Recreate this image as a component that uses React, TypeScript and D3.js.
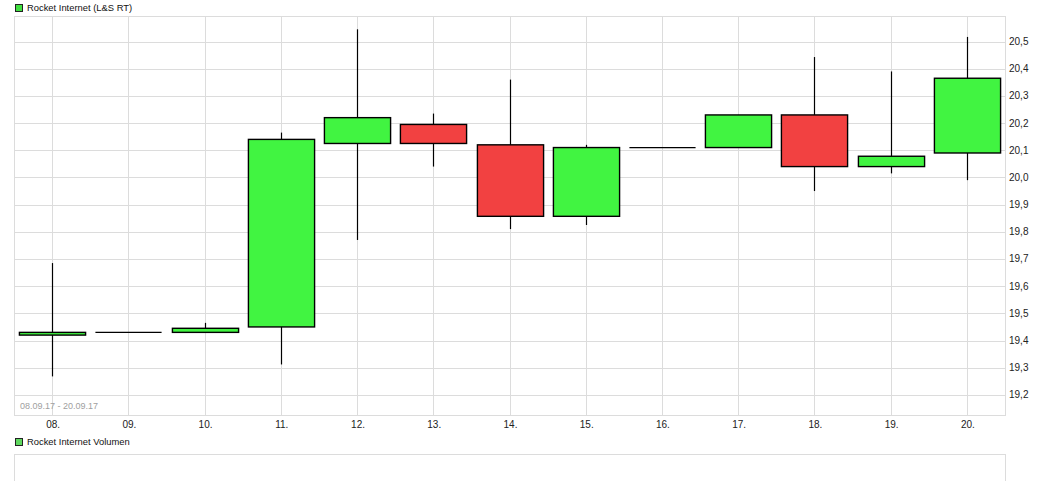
import React from "react";
import * as d3 from "d3";

const dates = ["08.", "09.", "10.", "11.", "12.", "13.", "14.", "15.", "16.", "17.", "18.", "19.", "20."];
const openValues = [19.42, 19.43, 19.43, 19.45, 20.125, 20.195, 20.12, 19.857, 20.11, 20.11, 20.23, 20.04, 20.09];
const highValues = [19.685, 19.43, 19.465, 20.165, 20.545, 20.235, 20.36, 20.12, 20.11, 20.23, 20.443, 20.39, 20.517];
const lowValues = [19.268, 19.43, 19.43, 19.312, 19.77, 20.04, 19.81, 19.825, 20.11, 20.11, 19.95, 20.015, 19.99];
const closeValues = [19.43, 19.43, 19.445, 20.14, 20.22, 20.125, 19.857, 20.11, 20.11, 20.23, 20.04, 20.078, 20.365];
const yTicks = [19.2, 19.3, 19.4, 19.5, 19.6, 19.7, 19.8, 19.9, 20.0, 20.1, 20.2, 20.3, 20.4, 20.5];
const titleText = "Rocket Internet (L&S RT)";
const volumeTitle = "Rocket Internet Volumen";
const rangeText = "08.09.17 - 20.09.17";

const W = 1040;
const H = 481;
const plot = { left: 14, right: 1005, top: 16, bottom: 415 };
const FONT = "'Liberation Sans', Arial, sans-serif";

export default function App() {
  const x = d3.scalePoint<string>().domain(dates).range([plot.left, plot.right]).padding(0.5);
  const y = d3.scaleLinear().domain([19.126, 20.594]).range([plot.bottom, plot.top]);
  const step = x.step();
  const bw = step * 0.868;
  const fmt = (v: number) => v.toFixed(1).replace(".", ",");
  const crisp = (v: number) => Math.round(v) + 0.5;

  return (
    <svg width={W} height={H} style={{ position: "absolute", left: 0, top: 0, display: "block" }}>
      <rect x={0} y={0} width={W} height={H} fill="#fff" />
      {/* legend */}
      <rect x={15.5} y={4.5} width={7} height={7} fill="#40e040" stroke="#222" strokeWidth={1} />
      <text x={27} y={11} fontSize={9.4} fontFamily={FONT} fill="#111">{titleText}</text>

      {/* grid */}
      {yTicks.map((t) => (
        <line key={"h" + t} x1={plot.left} x2={plot.right} y1={crisp(y(t))} y2={crisp(y(t))} stroke="#dcdcdc" strokeWidth={1} />
      ))}
      {dates.map((d) => (
        <line key={"v" + d} x1={crisp(x(d)!)} x2={crisp(x(d)!)} y1={plot.top} y2={plot.bottom} stroke="#dcdcdc" strokeWidth={1} />
      ))}
      <rect x={plot.left + 0.5} y={plot.top + 0.5} width={plot.right - plot.left} height={plot.bottom - plot.top} fill="none" stroke="#dcdcdc" strokeWidth={1} />

      {/* y labels */}
      {yTicks.map((t) => (
        <text key={"yl" + t} x={1009} y={y(t) + 3.5} fontSize={10} fontFamily={FONT} fill="#222">{fmt(t)}</text>
      ))}
      {/* x labels */}
      {dates.map((d) => (
        <text key={"xl" + d} x={x(d)! + 1} y={428} fontSize={10} fontFamily={FONT} fill="#222" textAnchor="middle">{d}</text>
      ))}
      <text x={20} y={409} fontSize={9} fontFamily={FONT} fill="#a0a0a0">{rangeText}</text>

      {/* candles */}
      {dates.map((d, i) => {
        const cx = crisp(x(d)!);
        const o = openValues[i];
        const c = closeValues[i];
        const up = c >= o;
        const top = y(Math.max(o, c));
        const bot = y(Math.min(o, c));
        const flat = Math.abs(bot - top) < 1;
        return (
          <g key={"c" + d}>
            <line x1={cx} x2={cx} y1={y(highValues[i])} y2={y(lowValues[i])} stroke="#000" strokeWidth={1.2} />
            {flat ? (
              <line x1={cx - bw / 2} x2={cx + bw / 2} y1={top} y2={top} stroke="#000" strokeWidth={1.3} />
            ) : (
              <rect x={cx - bw / 2} y={top} width={bw} height={bot - top} fill={up ? "#41f441" : "#f24141"} stroke="#000" strokeWidth={1.4} />
            )}
          </g>
        );
      })}

      {/* volume panel */}
      <rect x={15.5} y={438.5} width={7} height={7} fill="#5fd85f" stroke="#222" strokeWidth={1} />
      <text x={27} y={445} fontSize={9.4} fontFamily={FONT} fill="#111">{volumeTitle}</text>
      <rect x={plot.left + 0.5} y={454.5} width={plot.right - plot.left} height={60} fill="none" stroke="#dcdcdc" strokeWidth={1} />
    </svg>
  );
}
